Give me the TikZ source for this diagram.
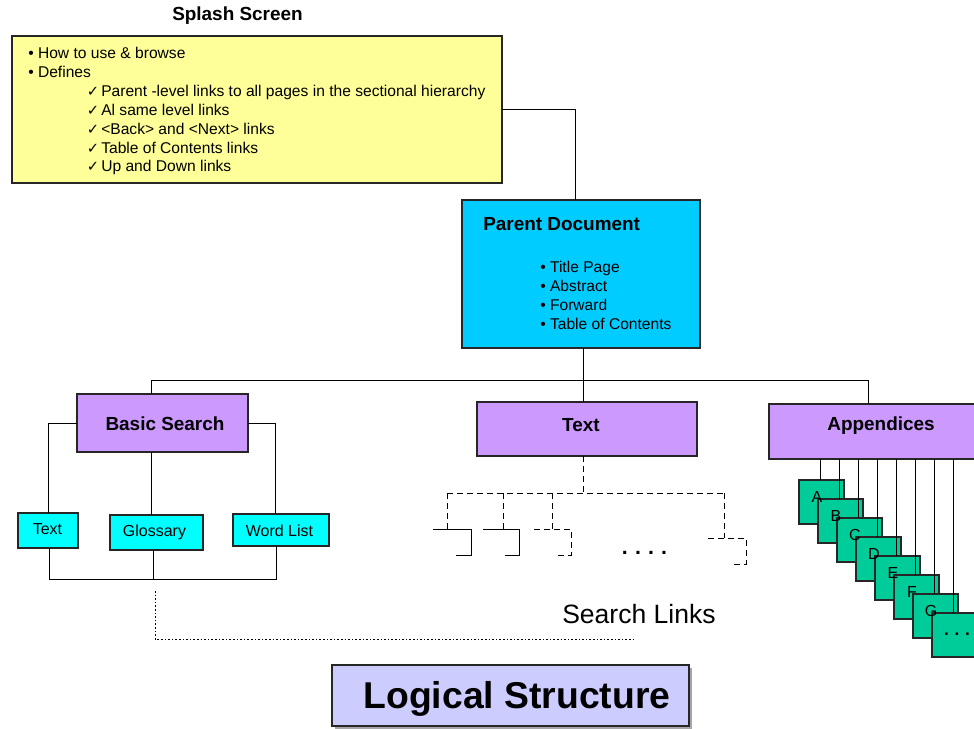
\documentclass[tikz,border=0pt]{standalone}
\usepackage{fontspec}
\setmainfont{Liberation Sans}
\newfontfamily\dejavu{DejaVu Sans}
\usetikzlibrary{shadows}
\definecolor{splashyellow}{HTML}{FFFF99}
\definecolor{parentblue}{HTML}{00CCFF}
\definecolor{sectpurple}{HTML}{CC99FF}
\definecolor{leafcyan}{HTML}{00FFFF}
\definecolor{pagegreen}{HTML}{00CC99}
\definecolor{titlelav}{HTML}{CCCCFF}
\begin{document}
\begin{tikzpicture}[x=0.75pt,y=-0.75pt,
  box/.style={draw=black!85, line width=0.8pt, inner sep=0pt, outer sep=0pt},
  conn/.style={draw=black, line width=0.75pt},
  dconn/.style={conn, dash pattern=on 4.5pt off 3pt},
  body/.style={font=\fontsize{11.7}{14}\selectfont, inner sep=0pt, anchor=base west},
  chk/.style={font=\dejavu\fontsize{11}{12}\selectfont, inner sep=0pt, anchor=base west},
  btitle/.style={font=\bfseries\fontsize{14.2}{17}\selectfont, inner sep=0pt},
  leaftxt/.style={font=\fontsize{12}{14}\selectfont, inner sep=0pt},
  letter/.style={font=\fontsize{12}{14}\selectfont, inner sep=0pt, anchor=base},
  pagebox/.style={box, fill=pagegreen, minimum width=33.75pt, minimum height=33pt}
]
\clip (0,0) rectangle (974,728);

% Splash screen
\node[btitle, anchor=base] (splashtitle) at (237.5,21) {Splash Screen};
\node[box, fill=splashyellow, minimum width=367.5pt, minimum height=110.25pt] (splash) at (257,109.5) {};
\node[body] (s1) at (28,58.5) {\textbullet\ How to use \& browse};
\node[body] (s2) at (28,77.4) {\textbullet\ Defines};
\foreach \i/\t in {0/{Parent -level links to all pages in the sectional hierarchy},
                   1/{Al same level links},
                   2/{<Back> and <Next> links},
                   3/{Table of Contents links},
                   4/{Up and Down links}}{
  \node[chk] (c\i) at (86.5,{96.3+18.9*\i}) {✓};
  \node[body] (d\i) at (101,{96.3+18.9*\i}) {\t};
}

% Parent document
\node[box, fill=parentblue, minimum width=178.5pt, minimum height=111pt] (parent) at (581,274) {};
\node[btitle, anchor=base west] (ptitle) at (483,230.5) {Parent Document};
\foreach \i/\t in {0/Title Page,1/Abstract,2/Forward,3/Table of Contents}{
  \node[body] (pb\i) at (540,{272.7+19*\i}) {\textbullet\ \t};
}

% Sections
\node[box, fill=sectpurple, minimum width=128.25pt, minimum height=43.5pt] (basic) at (162.5,423) {};
\node[btitle] (basict) at (165,424) {Basic Search};
\node[box, fill=sectpurple, minimum width=165pt, minimum height=40.5pt] (textb) at (587,429) {};
\node[btitle] (textt) at (581,425.5) {Text};
\node[box, fill=sectpurple, minimum width=168pt, minimum height=41.25pt] (app) at (881,431.5) {};
\node[btitle] (appt) at (881,426) {Appendices};

% Basic search leaves
\node[box, fill=leafcyan, minimum width=45pt, minimum height=26.25pt] (st) at (48,530.5) {};
\node[leaftxt] (stt) at (47.5,529) {Text};
\node[box, fill=leafcyan, minimum width=69.75pt, minimum height=26.25pt] (gl) at (156.5,532.5) {};
\node[leaftxt] (glt) at (154.5,532.5) {Glossary};
\node[box, fill=leafcyan, minimum width=72pt, minimum height=24pt] (wl) at (281,530) {};
\node[leaftxt] (wlt) at (279.5,531) {Word List};

% Title
\node[box, fill=titlelav, minimum width=267.75pt, minimum height=45.75pt,
      drop shadow={shadow xshift=2.25pt, shadow yshift=-2.25pt, opacity=1, fill=gray!70}] (logical) at (510.5,695.5) {};
\node[font=\bfseries\fontsize{28}{32}\selectfont, inner sep=0pt, anchor=base] (logicalt) at (517,708) {Logical Structure};

% Search links label
\node[font=\fontsize{19.9}{22}\selectfont, inner sep=0pt, anchor=base west] (searchlinks) at (562,623) {Search Links};

% Connectors: top
\coordinate (bus) at (583,380);
\draw[conn] (splash.east) -| ([xshift=-4.5pt]parent.north);
\draw[conn] ([xshift=1.5pt]parent.south) -- ([xshift=1.5pt]parent.south |- bus);
\coordinate (bl) at ([xshift=-8.6pt]basic.north);
\coordinate (ar) at ([xshift=-9.75pt]app.north);
\draw[conn] (bl) -- (bl |- bus) -- (ar |- bus) -- (ar);
\coordinate (tt) at ([xshift=-3pt]textb.north);
\draw[conn] (tt |- bus) -- (tt);

% Basic search to leaves
\draw[conn] (basic.west) -| (st.north);
\coordinate (wn) at ([xshift=-4.5pt]wl.north);
\draw[conn] (basic.east) -| (wn);
\coordinate (gn) at ([xshift=-3.4pt]gl.north);
\draw[conn] (gn |- basic.south) -- (gn);
\coordinate (lowbus) at (0,579);
\coordinate (ss) at ([xshift=0.75pt]st.south);
\coordinate (gs) at ([xshift=-1.9pt]gl.south);
\coordinate (ws) at ([xshift=-3.75pt]wl.south);
\draw[conn] (ss) -- (ss |- lowbus) -- (ws |- lowbus) -- (ws);
\draw[conn] (gs) -- (gs |- lowbus);

% Dotted search link
\coordinate (dA) at (155,591);
\coordinate (dB) at (155,639);
\coordinate (dC) at (634,639);
\draw[black, line width=0.75pt, dash pattern=on 1.2pt off 1.5pt] (dA) -- (dB) -- (dC);

% Text subtree (dashed)
\coordinate (tj) at ([xshift=-3pt]textb.south);
\coordinate (hy) at (583,493);
\draw[dconn] (tj) -- (hy);
\coordinate (h1) at (447,493);
\coordinate (h4) at (724,493);
\draw[dconn] (h1) -- (h4);
\coordinate (g1a) at (433,529); \coordinate (g1b) at (471,529); \coordinate (g1c) at (471,555); \coordinate (g1d) at (456,555);
\coordinate (g2a) at (483,529); \coordinate (g2b) at (519,529); \coordinate (g2c) at (519,555); \coordinate (g2d) at (505,555);
\coordinate (g3a) at (534,529); \coordinate (g3b) at (571,529); \coordinate (g3c) at (571,555); \coordinate (g3d) at (556,555);
\coordinate (g4a) at (708,538); \coordinate (g4b) at (746,538); \coordinate (g4c) at (746,564); \coordinate (g4d) at (731,564);
\coordinate (k1) at (447,529); \coordinate (k2) at (503,529); \coordinate (k3) at (552,529); \coordinate (k4) at (724,538);
\draw[dconn] (h1) -- (k1);
\draw[dconn] (k2 |- h1) -- (k2);
\draw[dconn] (k3 |- h1) -- (k3);
\draw[dconn] (h4) -- (k4);
\draw[conn] (g1a) -- (g1b) -- (g1c) -- (g1d);
\draw[conn] (g2a) -- (g2b) -- (g2c) -- (g2d);
\draw[dconn] (g3a) -- (g3b) -- (g3c) -- (g3d);
\draw[dconn] (g4a) -- (g4b) -- (g4c) -- (g4d);
\node[font=\bfseries\fontsize{16}{18}\selectfont, inner sep=0pt, anchor=base] (dots) at (644.5,554) {.\,\,.\,\,.\,\,.};

% Appendix pages
\foreach \k in {0,...,6}{
  \node[pagebox] (p\k) at ({821.5+19*\k},{502+19*\k}) {};
}
\node[pagebox] (p7) at (954.5,635) {};
\foreach \k/\l in {0/A,1/B,2/C,3/D,4/E,5/F,6/G}{
  \node[letter] (l\k) at ({817+19*\k},{502+19*\k}) {\l};
}
\node[font=\bfseries\fontsize{13}{15}\selectfont, inner sep=0pt, anchor=base] (l7) at (957,635) {.\,\,.\,\,.};
\foreach \k in {0,...,7}{
  \coordinate (t\k) at ([xshift=15.75pt]p\k.north west);
  \draw[conn] (t\k |- app.south) -- (t\k);
}
\end{tikzpicture}
\end{document}
